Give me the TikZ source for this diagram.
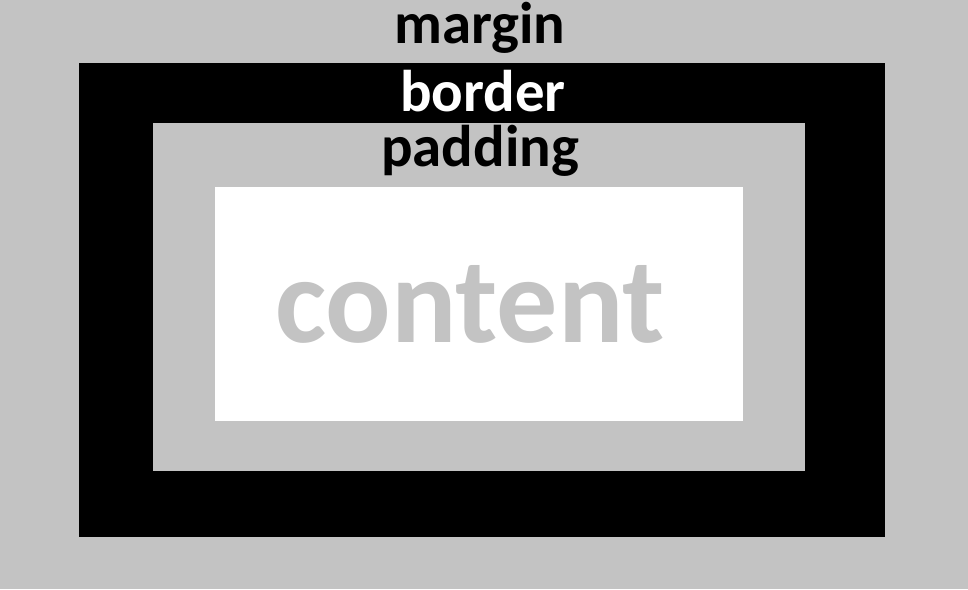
\documentclass[tikz,border=0pt]{standalone}
\usepackage{fontspec}
\setmainfont{Carlito}
\usepackage{tikz}
\definecolor{boxgray}{RGB}{195,195,195}
\tikzset{label/.style={anchor=base,inner sep=0pt,font=\bfseries\fontsize{33.5}{33.5}\selectfont}}
\begin{document}
\begin{tikzpicture}[x=0.02cm,y=-0.02cm]
				% Fond
				\fill [boxgray] (0,0) rectangle (968,589);
				\useasboundingbox (0,0) rectangle (968,589);
				% Boites
				\fill [black] (79,63) rectangle (885,537);
				\fill [boxgray] (153,123) rectangle (805,471);
				\fill [white] (215,187) rectangle (743,421);
				% Textes
				\node [label] (margin) at (480,43) {margin};
				\node [label,white] (border) at (483,111) {border};
				\node [label] (padding) at (480,166) {padding};
				\node [label,boxgray,font=\bfseries\fontsize{69.5}{69.5}\selectfont] (content) at (470,342) {content};
\end{tikzpicture}
\end{document}
